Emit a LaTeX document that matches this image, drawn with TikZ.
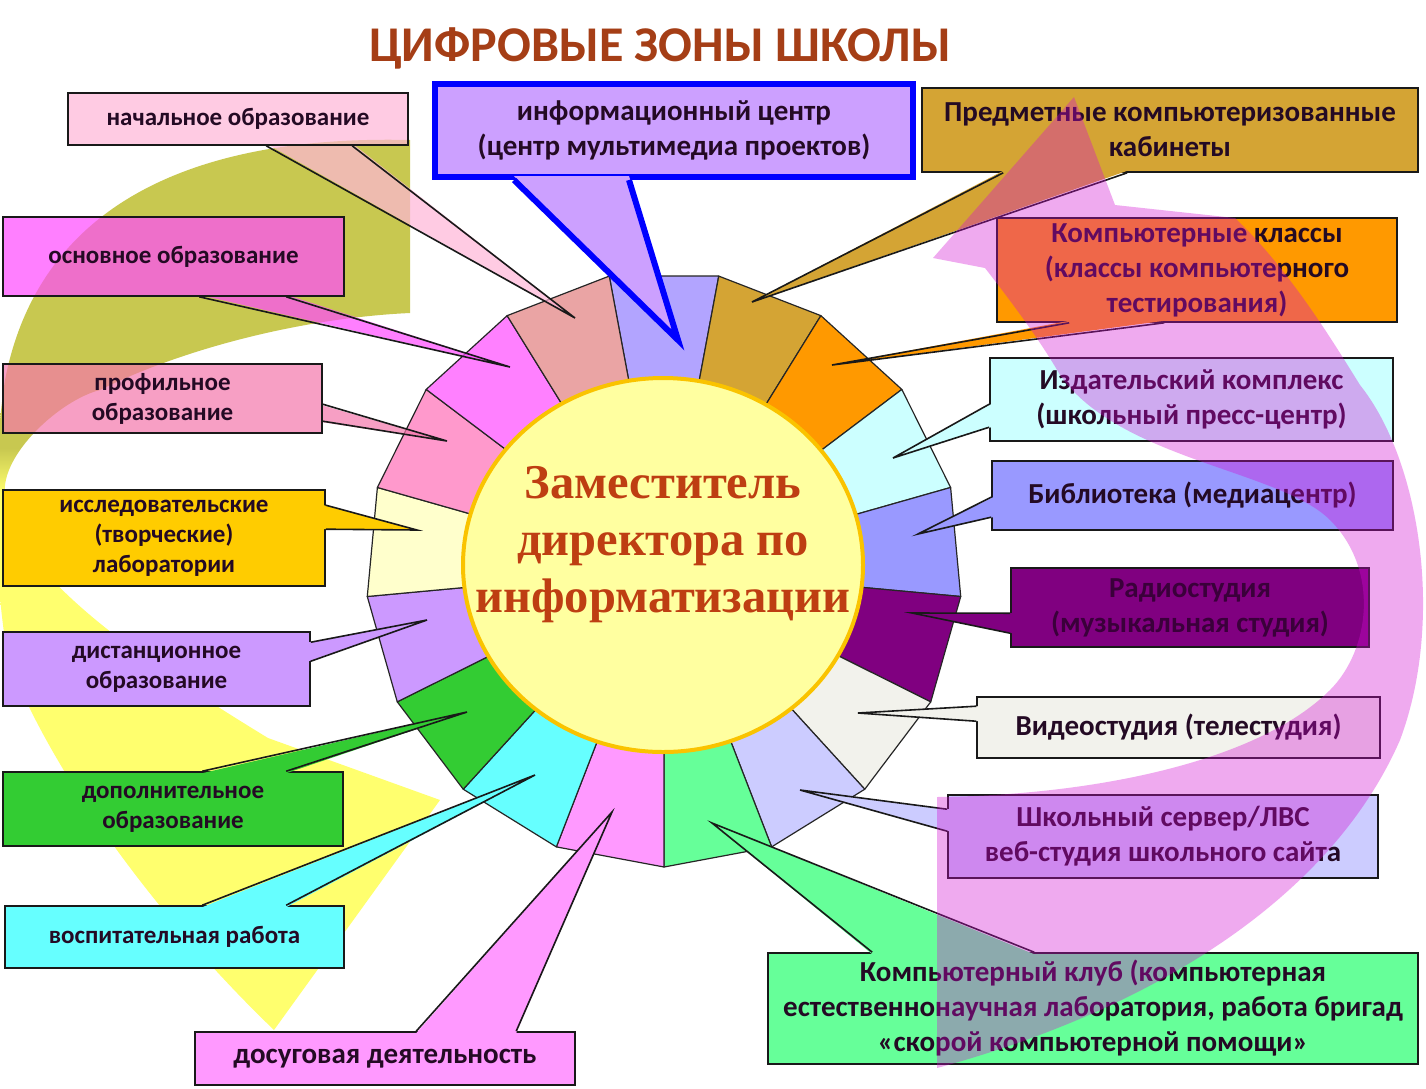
\documentclass[tikz,border=0pt]{standalone}
\usepackage{fontspec}
\setmainfont{Carlito}
\newfontfamily\deputyfont{Liberation Serif}
\usetikzlibrary{shapes.geometric}

% colours of the picture
\definecolor{titleC}{RGB}{165,62,22}
\definecolor{deputyC}{RGB}{190,62,18}
\definecolor{ringC}{RGB}{250,195,0}
\definecolor{discC}{RGB}{255,255,160}
\definecolor{txtC}{RGB}{36,10,36}
% wheel segments
\definecolor{wLav}{RGB}{178,164,255}
\definecolor{wGold}{RGB}{212,164,52}
\definecolor{wOrange}{RGB}{255,153,0}
\definecolor{wLCyan}{RGB}{204,255,255}
\definecolor{wPeri}{RGB}{153,153,255}
\definecolor{wPurple}{RGB}{128,0,128}
\definecolor{wOffW}{RGB}{242,242,236}
\definecolor{wLLav}{RGB}{204,204,255}
\definecolor{wMint}{RGB}{102,255,153}
\definecolor{wPink}{RGB}{255,153,255}
\definecolor{wCyan}{RGB}{102,255,255}
\definecolor{wGreen}{RGB}{51,204,51}
\definecolor{wLav2}{RGB}{204,153,255}
\definecolor{wCream}{RGB}{255,255,204}
\definecolor{wRose}{RGB}{255,153,204}
\definecolor{wMag}{RGB}{255,128,255}
\definecolor{wSalmon}{RGB}{234,164,164}
% boxes (the first three are see-through)
\definecolor{bNach}{RGB}{255,182,216}
\definecolor{bOsn}{RGB}{255,74,255}
\definecolor{bProf}{RGB}{245,119,171}
\definecolor{bIssl}{RGB}{255,204,0}
\definecolor{bDist}{RGB}{204,153,255}
\definecolor{bDop}{RGB}{51,204,51}
\definecolor{bVosp}{RGB}{102,255,255}
\definecolor{bDosug}{RGB}{255,153,255}
\definecolor{bInfo}{RGB}{204,160,255}
\definecolor{bPredm}{RGB}{212,164,52}
\definecolor{bKlass}{RGB}{255,153,0}
\definecolor{bIzd}{RGB}{204,255,255}
\definecolor{bBibl}{RGB}{153,153,255}
\definecolor{bRadio}{RGB}{128,0,128}
\definecolor{bVideo}{RGB}{242,242,236}
\definecolor{bServer}{RGB}{204,204,255}
\definecolor{bKlub}{RGB}{102,255,153}
% big arrows
\definecolor{aOlive}{RGB}{200,200,80}
\definecolor{aYel}{RGB}{255,255,110}
\definecolor{aPink}{RGB}{212,12,212}

\pgfdeclareverticalshading{olyel}{100bp}{color(0bp)=(aYel); color(55bp)=(aYel); color(57.5bp)=(aOlive); color(100bp)=(aOlive)}

\begin{document}
\begin{tikzpicture}[x=1pt, y=-1pt,
    zone/.style={draw=black!90, line width=1.6pt, inner sep=0pt, align=center,
      font=\fontsize{25}{30}\selectfont\bfseries, text=txtC},
    zoneR/.style={zone, font=\fontsize{29}{35}\selectfont\bfseries},
    tail/.style={draw=black!90, line width=1.6pt, line join=miter},
    seg/.style={draw=black!85, line width=1.2pt, line join=round}]
\useasboundingbox (0,0) rectangle (1426,1088);
\fill[white] (0,0) rectangle (1426,1088);

% left arrow: olive band turning into a yellow head
\begin{scope}
\clip (0,0) rectangle (1426,1088);
\shade[shading=olyel] (410,140) .. controls (200,135) and (40,200) .. (5,380)
  .. controls (-10,480) and (-5,580) .. (8,660)
  .. controls (60,790) and (170,930) .. (274,1030)
  -- (440,800) -- (268,738)
  .. controls (140,660) and (10,570) .. (5,495)
  .. controls (0,455) and (60,400) .. (100,390)
  .. controls (180,350) and (300,318) .. (410,313) -- cycle;
\end{scope}

% wheel of 17 zones
\begin{scope}[shift={(664,569)}]
\foreach \c [count=\i from 0] in {wLav,wGold,wOrange,wLCyan,wPeri,wPurple,wOffW,wLLav,wMint,wPink,wCyan,wGreen,wLav2,wCream,wRose,wMag,wSalmon}{
  \pgfmathsetmacro\a{-90+\i*21.1765-10.5882}
  \pgfmathsetmacro\b{\a+21.1765}
  \filldraw[seg, fill=\c] (0,0) -- (\a:298) -- (\b:298) -- cycle;
}
\end{scope}
\node[ellipse, draw=ringC, fill=discC, line width=4pt, minimum width=400pt, minimum height=374pt] (disc) at (663,565) {};
\node[font=\fontsize{48.5}{57}\selectfont\deputyfont\bfseries, text=deputyC, align=center] (deputy) at (663,545) {Заместитель\\директора по\\информатизации};

% left column
\coordinate (nachT) at (575,318);
\coordinate (osnT) at (510,367);
\coordinate (profT) at (447,441);
% these three lie over the olive band and let it show through
\begin{scope}[transparency group, opacity=0.7]
\fill[bNach] (68,93) rectangle (408,145);
\fill[bNach] (267,144) -- (nachT) -- (353,144) -- cycle;
\fill[bOsn] (3,217) rectangle (344,296);
\fill[bOsn] (200,295) -- (osnT) -- (287,295) -- cycle;
\fill[bProf] (3,364) rectangle (322,433);
\fill[bProf] (321,405) -- (profT) -- (321,422) -- cycle;
\end{scope}

\node[zone, minimum width=340pt, minimum height=52pt] (nach) at (238,119) {начальное образование};
\draw[tail] ([xshift=199pt]nach.south west) -- (nachT) -- ([xshift=285pt]nach.south west);

\node[zone, minimum width=341pt, minimum height=79pt] (osn) at (173.5,256.5) {основное образование};
\draw[tail] ([xshift=197pt]osn.south west) -- (osnT) -- ([xshift=284pt]osn.south west);

\node[zone, minimum width=319pt, minimum height=69pt] (prof) at (162.5,398.5) {профильное\\образование};
\draw[tail] ([yshift=-41pt]prof.north east) -- (profT) -- ([yshift=-58pt]prof.north east);

\node[zone, fill=bIssl, minimum width=322pt, minimum height=96pt] (issl) at (164,538) {исследовательские\\(творческие)\\лаборатории};
\coordinate (isslT) at (417,530);
\fill[bIssl] ([xshift=-2pt,yshift=-16pt]issl.north east) -- (isslT) -- ([xshift=-2pt,yshift=-40pt]issl.north east) -- cycle;
\draw[tail] ([yshift=-16pt]issl.north east) -- (isslT) -- ([yshift=-40pt]issl.north east);

\node[zone, fill=bDist, minimum width=307pt, minimum height=74pt] (dist) at (156.5,669) {дистанционное\\образование};
\coordinate (distT) at (427,620);
\fill[bDist] ([xshift=-2pt,yshift=-11pt]dist.north east) -- (distT) -- ([xshift=-2pt,yshift=-30pt]dist.north east) -- cycle;
\draw[tail] ([yshift=-11pt]dist.north east) -- (distT) -- ([yshift=-30pt]dist.north east);

\node[zone, fill=bDop, minimum width=340pt, minimum height=74pt] (dop) at (173,809) {дополнительное\\образование};
\coordinate (dopT) at (467,712);
\fill[bDop] ([xshift=200pt,yshift=-2pt]dop.north west) -- (dopT) -- ([xshift=284pt,yshift=-2pt]dop.north west) -- cycle;
\draw[tail] ([xshift=200pt]dop.north west) -- (dopT) -- ([xshift=284pt]dop.north west);

\node[zone, fill=bVosp, minimum width=339pt, minimum height=62pt] (vosp) at (174.5,937) {воспитательная работа};
\coordinate (vospT) at (535,775);
\fill[bVosp] ([xshift=198pt,yshift=-2pt]vosp.north west) -- (vospT) -- ([xshift=282pt,yshift=-2pt]vosp.north west) -- cycle;
\draw[tail] ([xshift=198pt]vosp.north west) -- (vospT) -- ([xshift=282pt]vosp.north west);

\node[zoneR, fill=bDosug, minimum width=380pt, minimum height=53pt] (dosug) at (385,1058.5) {досуговая деятельность};
\coordinate (dosugT) at (612,812);
\fill[bDosug] ([xshift=222pt,yshift=-2pt]dosug.north west) -- (dosugT) -- ([xshift=322pt,yshift=-2pt]dosug.north west) -- cycle;
\draw[tail] ([xshift=222pt]dosug.north west) -- (dosugT) -- ([xshift=322pt]dosug.north west);

% top centre
\node[zoneR, draw=blue, line width=6pt, fill=bInfo, minimum width=478pt, minimum height=93pt] (info) at (674,130.5) {информационный центр\\(центр мультимедиа проектов)};
\coordinate (infoT) at (678,340);
\fill[bInfo] ([xshift=82pt,yshift=4pt]info.south west) -- (infoT) -- ([xshift=197pt,yshift=4pt]info.south west) -- cycle;
\draw[tail, draw=blue, line width=6pt] ([xshift=82pt]info.south west) -- (infoT) -- ([xshift=197pt]info.south west);

% right column
\node[zoneR, fill=bPredm, minimum width=496pt, minimum height=84pt] (predm) at (1170,130) {Предметные компьютеризованные\\кабинеты};
\coordinate (predmT) at (752,302);
\fill[bPredm] ([xshift=82pt,yshift=2pt]predm.south west) -- (predmT) -- ([xshift=206pt,yshift=2pt]predm.south west) -- cycle;
\draw[tail] ([xshift=82pt]predm.south west) -- (predmT) -- ([xshift=206pt]predm.south west);

\node[zoneR, fill=bKlass, minimum width=400pt, minimum height=104pt] (klass) at (1197,270) {Компьютерные классы\\(классы компьютерного\\тестирования)};
\coordinate (klassT) at (832,365);
\fill[bKlass] ([xshift=73pt,yshift=2pt]klass.south west) -- (klassT) -- ([xshift=168pt,yshift=2pt]klass.south west) -- cycle;
\draw[tail] ([xshift=73pt]klass.south west) -- (klassT) -- ([xshift=168pt]klass.south west);

\node[zoneR, fill=bIzd, minimum width=403pt, minimum height=83pt] (izd) at (1191.5,399.5) {Издательский комплекс\\(школьный пресс-центр)};
\coordinate (izdT) at (893,458);
\fill[bIzd] ([xshift=2pt,yshift=-47pt]izd.north west) -- (izdT) -- ([xshift=2pt,yshift=-70pt]izd.north west) -- cycle;
\draw[tail] ([yshift=-47pt]izd.north west) -- (izdT) -- ([yshift=-70pt]izd.north west);

\node[zoneR, fill=bBibl, minimum width=401pt, minimum height=69pt] (bibl) at (1192.5,495.5) {Библиотека (медиацентр)};
\coordinate (biblT) at (918,534);
\fill[bBibl] ([xshift=2pt,yshift=-37pt]bibl.north west) -- (biblT) -- ([xshift=2pt,yshift=-57pt]bibl.north west) -- cycle;
\draw[tail] ([yshift=-37pt]bibl.north west) -- (biblT) -- ([yshift=-57pt]bibl.north west);

\node[zoneR, fill=bRadio, text=black!55!bRadio, minimum width=358pt, minimum height=79pt] (radio) at (1190,607.5) {Радиостудия\\(музыкальная студия)};
\coordinate (radioT) at (912,613);
\fill[bRadio] ([xshift=2pt,yshift=-46pt]radio.north west) -- (radioT) -- ([xshift=2pt,yshift=-66pt]radio.north west) -- cycle;
\draw[tail] ([yshift=-46pt]radio.north west) -- (radioT) -- ([yshift=-66pt]radio.north west);

\node[zoneR, fill=bVideo, minimum width=403pt, minimum height=61pt] (video) at (1178.5,727.5) {Видеостудия (телестудия)};
\coordinate (videoT) at (858,713);
\fill[bVideo] ([xshift=2pt,yshift=-10pt]video.north west) -- (videoT) -- ([xshift=2pt,yshift=-25pt]video.north west) -- cycle;
\draw[tail] ([yshift=-10pt]video.north west) -- (videoT) -- ([yshift=-25pt]video.north west);

\node[zoneR, fill=bServer, minimum width=430pt, minimum height=83pt] (server) at (1163,836.5) {Школьный сервер/ЛВС\\веб-студия школьного сайта};
\coordinate (serverT) at (800,790);
\fill[bServer] ([xshift=2pt,yshift=-15pt]server.north west) -- (serverT) -- ([xshift=2pt,yshift=-37pt]server.north west) -- cycle;
\draw[tail] ([yshift=-15pt]server.north west) -- (serverT) -- ([yshift=-37pt]server.north west);

\node[zoneR, fill=bKlub, minimum width=650pt, minimum height=111pt] (klub) at (1093,1008.5) {Компьютерный клуб (компьютерная\\естественнонаучная лаборатория, работа бригад\\«скорой компьютерной помощи»};
\coordinate (klubT) at (712,823);
\fill[bKlub] ([xshift=105pt,yshift=-2pt]klub.north west) -- (klubT) -- ([xshift=267pt,yshift=-2pt]klub.north west) -- cycle;
\draw[tail] ([xshift=105pt]klub.north west) -- (klubT) -- ([xshift=267pt]klub.north west);

% title
\node[font=\fontsize{50}{58}\selectfont\bfseries, text=titleC] (title) at (660,48) {ЦИФРОВЫЕ ЗОНЫ ШКОЛЫ};

% pink arrow on the right, see-through over the boxes
\begin{scope}
\clip (0,0) rectangle (1426,1088);
\fill[aPink, opacity=0.35] (937,1068)
  .. controls (1150,1010) and (1330,900) .. (1400,740)
  .. controls (1445,620) and (1420,460) .. (1360,385)
  .. controls (1335,345) and (1290,270) .. (1235,218)
  -- (1115,205) -- (1074,97) -- (933,258) -- (985,268)
  .. controls (1010,300) and (1040,340) .. (1060,375)
  .. controls (1120,460) and (1280,470) .. (1330,520)
  .. controls (1380,570) and (1370,650) .. (1330,690)
  .. controls (1260,760) and (1100,795) .. (937,797) -- cycle;
\end{scope}
\end{tikzpicture}
\end{document}
